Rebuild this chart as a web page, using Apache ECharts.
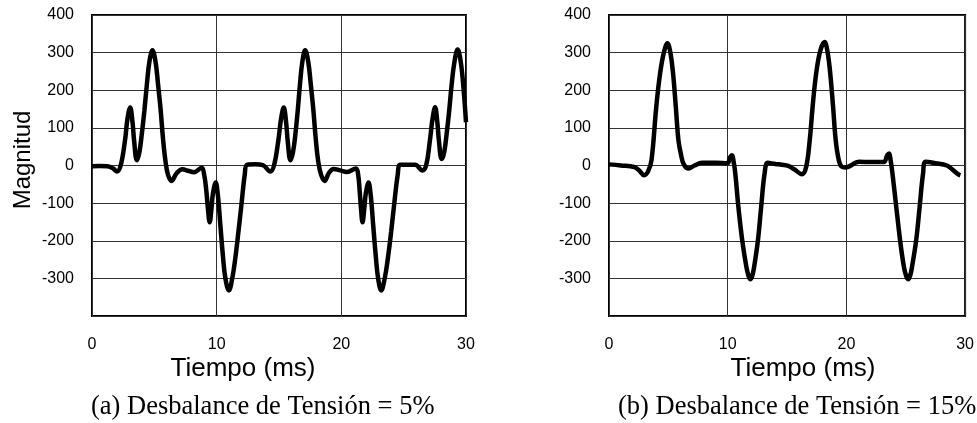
<!DOCTYPE html>
<html><head><meta charset="utf-8">
<script src="https://cdn.jsdelivr.net/npm/echarts@6/dist/echarts.min.js"></script>
<style>html,body{margin:0;padding:0;background:#fff}#c{width:977px;height:423px}</style>
</head><body><div id="c"></div>
<script>
// (a) Desbalance de Tensión = 5%  — time (ms) and magnitude
const timeA = [0,0.6,1.25,1.7,2.0,2.3,2.64,2.85,3.06,3.25,3.38,3.6,3.8,4.0,4.2,4.4,4.6,4.85,5.1,5.3,5.5,5.7,5.9,6.1,6.37,6.8,7.25,7.7,8.18,8.8,9.0,9.17,9.3,9.44,9.58,9.7,9.92,10.1,10.3,10.5,10.7,10.98,11.25,11.5,11.75,12.0,12.25,12.45,13.1,13.7,
  14.3,14.6,14.94,15.17,15.38,15.57,15.7,15.92,16.12,16.32,16.5,16.68,16.87,17.1,17.35,17.55,17.75,17.95,18.15,18.38,18.66,19.0,19.38,19.9,20.45,21.17,21.35,21.47,21.58,21.7,21.84,21.96,22.18,22.36,22.56,22.76,22.95,23.2,23.48,23.74,24.0,24.25,24.52,24.72,25.3,25.92,
  26.5,26.8,27.1,27.32,27.52,27.7,27.83,28.05,28.25,28.45,28.65,28.85,29.07,29.33,29.58,29.8,30];
const valA  = [-2,-1,-2,-8,-16,0,65,125,154,115,65,14,35,85,145,215,275,306,275,215,150,70,10,-25,-41,-20,-10,-14,-18,-6,-25,-67,-115,-151,-115,-75,-45,-80,-160,-240,-300,-332,-300,-245,-175,-100,-25,2,3,1,
  -16,0,65,125,154,115,65,14,35,85,145,215,275,306,275,215,150,70,10,-25,-41,-20,-9,-13,-17,-8,-25,-67,-115,-151,-115,-75,-45,-80,-160,-240,-300,-332,-300,-245,-175,-100,-25,2,2,2,
  -13,0,65,125,155,115,65,17,35,85,145,215,275,308,275,205,115];
// (b) Desbalance de Tensión = 15%
const timeB = [0,1.0,2.12,2.5,2.97,3.3,3.58,3.98,4.3,4.62,4.92,5.17,5.4,5.63,5.85,6.06,6.3,6.7,7.2,7.85,9.0,9.97,10.2,10.37,10.5,10.64,10.9,11.22,11.57,11.75,11.91,12.07,12.23,12.55,12.82,13.11,13.38,14.0,14.57,
  15.1,15.6,16.25,16.6,16.91,17.15,17.45,17.8,18.16,18.42,18.64,18.88,19.1,19.36,19.6,19.9,21.1,22.0,23.14,23.45,23.6,23.72,23.88,24.2,24.52,24.84,25.03,25.2,25.37,25.53,25.88,26.17,26.46,26.68,27.5,28.46,28.9,29.4,29.6];
const valB  = [3,0,-4,-12,-26,-15,14,155,244,300,325,300,244,155,67,30,3,-8,0,7,7,6,22,27,10,-21,-110,-198,-269,-293,-302,-293,-269,-198,-110,-21,7,4,2,
  -1,-10,-23,-5,67,155,244,305,328,300,244,155,67,14,-3,-5,10,9,9,28,32,15,-21,-110,-198,-269,-293,-302,-293,-269,-198,-110,-21,10,6,0,-10,-23,-26];

const xTicks = [0, 10, 20, 30];
const yTicks = [-400, -300, -200, -100, 0, 100, 200, 300, 400];

const zip = (t, v) => t.map((x, i) => [x, v[i]]);
const SANS = "'Liberation Sans', Arial, sans-serif";
const SERIF = "'Liberation Serif', 'Times New Roman', serif";

function xAx(gi) {
  return {
    type: 'value', gridIndex: gi, min: xTicks[0], max: xTicks[xTicks.length - 1],
    interval: xTicks[1] - xTicks[0],
    axisLine: { show: false }, axisTick: { show: false },
    axisLabel: { fontSize: 16, color: '#000', fontFamily: SANS, margin: 21 },
    splitLine: { show: true, lineStyle: { color: '#333', width: 1 } }
  };
}
function yAx(gi) {
  return {
    type: 'value', gridIndex: gi, min: yTicks[0], max: yTicks[yTicks.length - 1],
    interval: yTicks[1] - yTicks[0],
    axisLine: { show: false }, axisTick: { show: false },
    axisLabel: { fontSize: 16, color: '#000', fontFamily: SANS, margin: 18, showMinLabel: false },
    splitLine: { show: true, lineStyle: { color: '#333', width: 1 } }
  };
}
function ser(i, t, v) {
  return {
    type: 'line', xAxisIndex: i, yAxisIndex: i, data: zip(t, v),
    showSymbol: false, smooth: 0.4, clip: true,
    lineStyle: { color: '#000', width: 4.5 }
  };
}

const chart = echarts.init(document.getElementById('c'), null, { renderer: 'canvas' });
chart.setOption({
  animation: false,
  backgroundColor: '#fff',
  grid: [
    { left: 92, top: 15, width: 374, height: 301, show: true, borderColor: '#000', borderWidth: 2 },
    { left: 609, top: 15, width: 376, height: 301, show: true, borderColor: '#000', borderWidth: 2 }
  ],
  xAxis: [xAx(0), xAx(1)],
  yAxis: [yAx(0), yAx(1)],
  series: [ser(0, timeA, valA), ser(1, timeB, valB)],
  graphic: [
    { type: 'text', x: 23, y: 160, rotation: Math.PI / 2,
      style: { text: 'Magnitud', fontSize: 24, fontFamily: SANS, fill: '#000', textAlign: 'center', textVerticalAlign: 'middle' } },
    { type: 'text', x: 243, y: 369,
      style: { text: 'Tiempo (ms)', fontSize: 26, fontFamily: SANS, fill: '#000', textAlign: 'center', textVerticalAlign: 'middle' } },
    { type: 'text', x: 803, y: 369,
      style: { text: 'Tiempo (ms)', fontSize: 26, fontFamily: SANS, fill: '#000', textAlign: 'center', textVerticalAlign: 'middle' } },
    { type: 'text', x: 91, y: 407,
      style: { text: '(a) Desbalance de Tensión = 5%', fontSize: 26.5, fontFamily: SERIF, fill: '#000', textAlign: 'left', textVerticalAlign: 'middle' } },
    { type: 'text', x: 618, y: 407,
      style: { text: '(b) Desbalance de Tensión = 15%', fontSize: 26.5, fontFamily: SERIF, fill: '#000', textAlign: 'left', textVerticalAlign: 'middle' } }
  ]
});
</script>
</body></html>
